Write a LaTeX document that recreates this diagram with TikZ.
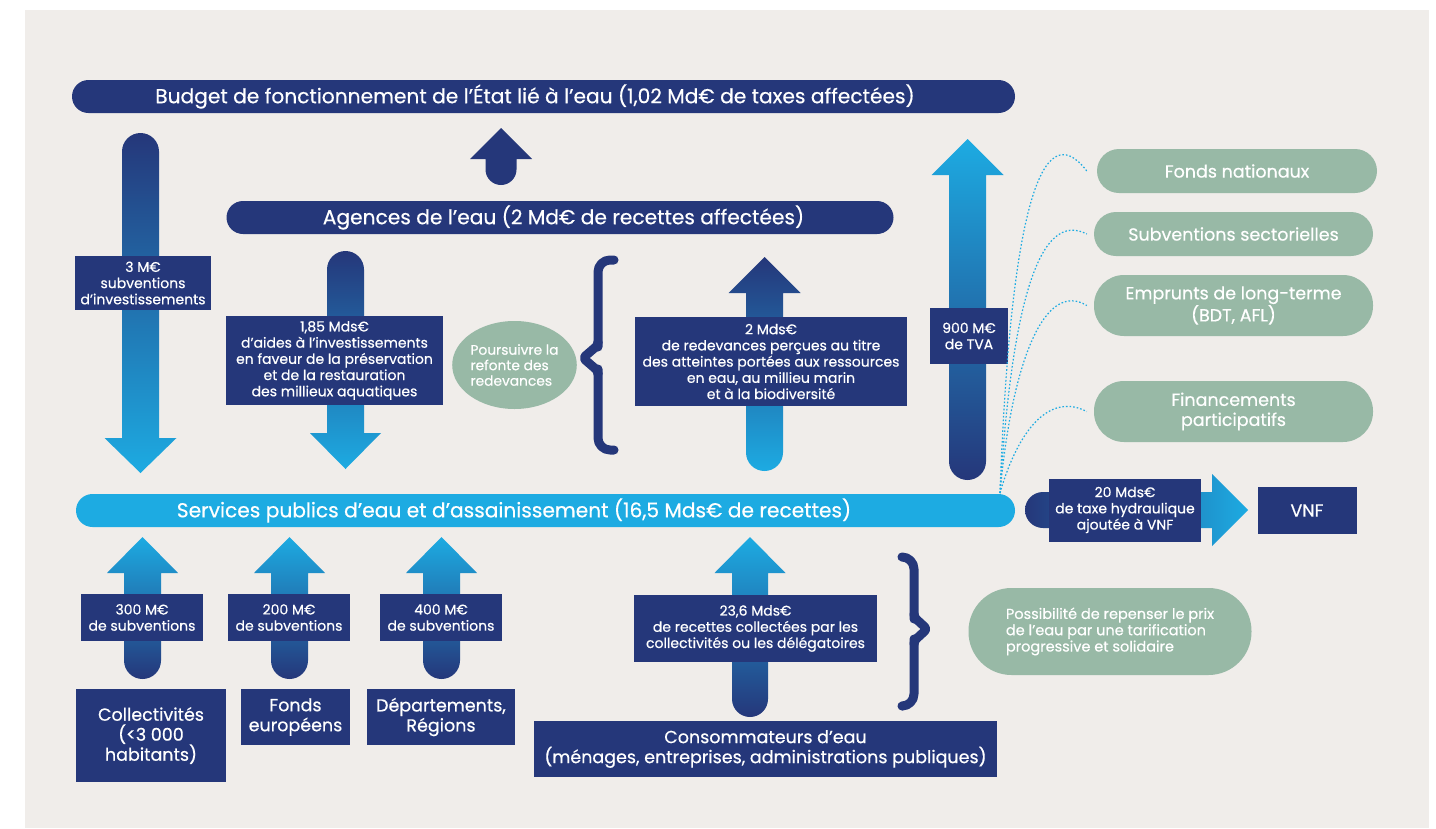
\documentclass[tikz,border=0pt]{standalone}
\usepackage{fontspec}
\setmainfont{Poppins}[FakeBold=0.5]
\usetikzlibrary{shapes.geometric}
\definecolor{navy}{HTML}{25377A}
\definecolor{lblue}{HTML}{1DABE2}
\definecolor{sage}{HTML}{98B9A6}
\definecolor{bgc}{HTML}{F0EDEA}

% cx, half shaft width, y of rounded end, y of head base, head half width, y of tip, direction (+1 round end above), top colour, bottom colour
\newcommand{\flowarrow}[9]{%
 \shade[top color=#8, bottom color=#9]
 ({#1-#2},{#4}) -- ({#1-#2},{#3+(#7)*#2})
 .. controls ({#1-#2},{#3+(#7)*0.448*#2}) and ({#1-0.552*#2},{#3}) .. ({#1},{#3})
 .. controls ({#1+0.552*#2},{#3}) and ({#1+#2},{#3+(#7)*0.448*#2}) .. ({#1+#2},{#3+(#7)*#2})
 -- ({#1+#2},{#4}) -- ({#1+#5},{#4}) -- ({#1},{#6}) -- ({#1-#5},{#4}) -- cycle;}

\tikzset{
 bar/.style={fill=navy, rounded corners=16.5pt, minimum height=33pt, inner sep=0pt},
 bartext/.style={text=white, inner sep=0pt, font=\fontsize{20.2}{22}\selectfont},
 lbl/.style={fill=navy, text=white, inner sep=0pt, align=center, font=\fontsize{14}{16.2}\selectfont},
 box/.style={fill=navy, text=white, inner sep=0pt, align=center, font=\fontsize{17.5}{20}\selectfont},
 pill/.style={fill=sage, text=white, rounded corners=22pt, inner sep=0pt, align=center, font=\fontsize{17.5}{20}\selectfont},
 dots/.style={lblue, line width=1.2pt, dash pattern=on 1.6pt off 2pt},
 brace/.style={navy, line width=9pt, line cap=round, line join=round},
}

\begin{document}
\begin{tikzpicture}[x=1pt,y=-1pt]
\useasboundingbox (0,0) rectangle (1436,828);
\fill[white] (0,0) rectangle (1436,828);
\fill[bgc] (25,10) rectangle (1429,828);

% ---- bars
\node[bar, minimum width=943pt] (budget) at (543.5,96.5) {};
\node[bartext] (budgetT) at (535,96.5) {Budget de fonctionnement de l’État lié à l’eau (1,02 Md€ de taxes affectées)};
\node[bar, minimum width=667pt] (agences) at (560,217.5) {};
\node[bartext] (agencesT) at (563.5,217.5) {Agences de l’eau (2 Md€ de recettes affectées)};
\node[bar, fill=lblue, minimum width=939pt] (services) at (545.5,510.5) {};
\node[bartext] (servicesT) at (514,510.5) {Services publics d’eau et d’assainissement (16,5 Mds€ de recettes)};

% ---- arrows
\flowarrow{501}{15.5}{185}{159}{31}{128}{-1}{navy}{navy}
\flowarrow{140.5}{18.5}{133}{438}{36}{473}{1}{navy}{lblue}
\flowarrow{345.5}{18.5}{251}{433}{35.5}{469}{1}{navy}{lblue}
\flowarrow{764.5}{18.5}{471}{293}{36}{257}{-1}{navy}{lblue}
\flowarrow{967.5}{18.5}{480}{175}{36}{139}{-1}{lblue}{navy}
\flowarrow{142.5}{18.5}{679}{573}{35.5}{537}{-1}{lblue}{navy}
\flowarrow{289.5}{18.5}{679}{573}{35.5}{537}{-1}{lblue}{navy}
\flowarrow{441.5}{18.5}{679}{573}{35.5}{537}{-1}{lblue}{navy}
\flowarrow{750}{18}{717}{573}{35.5}{537}{-1}{lblue}{navy}
\shade[left color=navy, right color=lblue] (1212,492) -- (1043,492)
 .. controls (1033.06,492) and (1025,500.06) .. (1025,510)
 .. controls (1025,519.94) and (1033.06,528) .. (1043,528)
 -- (1212,528) -- (1212,546) -- (1248,510) -- (1212,474) -- cycle;

% ---- labels on arrows
\node[lbl, minimum width=136pt, minimum height=54pt] (l3M) at (143,283) {3 M€\\subventions\\d’investissements};
\node[lbl, minimum width=217pt, minimum height=89pt] (l185) at (334.5,360.5) {1,85 Mds€\\d’aides à l’investissements\\en faveur de la préservation\\et de la restauration\\des millieux aquatiques};
\node[lbl, minimum width=272pt, minimum height=89pt] (l2M) at (771,361.5) {2 Mds€\\de redevances perçues au titre\\des atteintes portées aux ressources\\en eau, au millieu marin\\et à la biodiversité};
\node[lbl, minimum width=78pt, minimum height=56pt] (l900) at (969,336) {900 M€\\de TVA};
\node[lbl, minimum width=152pt, minimum height=63pt] (l20) at (1125,510) {20 Mds€\\de taxe hydraulique\\ajoutée à VNF};
\node[lbl, minimum width=122pt, minimum height=47pt] (l300) at (142,617.5) {300 M€\\de subventions};
\node[lbl, minimum width=122pt, minimum height=47pt] (l200) at (289,617.5) {200 M€\\de subventions};
\node[lbl, minimum width=122pt, minimum height=47pt] (l400) at (441,617.5) {400 M€\\de subventions};
\node[lbl, minimum width=243pt, minimum height=67pt] (l236) at (755.5,628.5) {23,6 Mds€\\de recettes collectées par les\\collectivités ou les délégatoires};

% ---- boxes
\node[box, minimum width=99pt, minimum height=47pt] (vnf) at (1307,510.5) {VNF};
\node[box, minimum width=150pt, minimum height=93pt] (collect) at (151,735.5) {Collectivités\\(<3 000\\habitants)};
\node[box, minimum width=109pt, minimum height=56pt] (feder) at (295.5,717) {Fonds\\européens};
\node[box, minimum width=148pt, minimum height=56pt] (dep) at (441,717) {Départements,\\Régions};
\node[box, minimum width=463pt, minimum height=56pt] (conso) at (765.5,749) {Consommateurs d’eau\\(ménages, entreprises, administrations publiques)};

% ---- green shapes
\node[ellipse, fill=sage, text=white, minimum width=115pt, minimum height=88pt, inner sep=0pt, align=left, font=\fontsize{13.8}{15.5}\selectfont] (refonte) at (514.5,365) {Poursuivre la\\refonte des\\redevances};
\node[pill, minimum width=280pt, minimum height=44pt] (fonds) at (1237,171) {Fonds nationaux};
\node[pill, minimum width=279pt, minimum height=44pt] (subv) at (1233.5,234) {Subventions sectorielles};
\node[pill, rounded corners=30pt, minimum width=279pt, minimum height=61pt] (emprunts) at (1233.5,305.5) {Emprunts de long-terme\\(BDT, AFL)};
\node[pill, rounded corners=30pt, minimum width=279pt, minimum height=61pt] (finpart) at (1233.5,411.5) {Financements\\participatifs};
\node[pill, rounded corners=43pt, minimum width=283pt, minimum height=87pt, align=left, font=\fontsize{14.5}{16.3}\selectfont] (prix) at (1110,631.5) {Possibilité de repenser le prix\\de l’eau par une tarification\\progressive et solidaire};

% ---- dotted links
\coordinate (src) at (1000,493);
\draw[dots] (src) .. controls (1010,220) and (1040,110) .. ([xshift=-10pt]fonds.west);
\draw[dots] (src) .. controls (1012,300) and (1040,210) .. ([xshift=-7pt]subv.west);
\draw[dots] (src) .. controls (1012,360) and (1045,280) .. ([xshift=-7pt]emprunts.west);
\draw[dots] (src) .. controls (1015,440) and (1045,390) .. ([xshift=-7pt]finpart.west);

% ---- braces
\draw[brace, rounded corners=12pt] (614,260) -- (598,260) -- (598,347);
\draw[brace, rounded corners=3pt] (598,343) -- (598,345) -- (583,358) -- (598,371) -- (598,373);
\draw[brace, rounded corners=12pt] (598,369) -- (598,450) -- (614,450);
\draw[brace, rounded corners=12pt] (903,557) -- (914,557) -- (914,619);
\draw[brace, rounded corners=3pt] (914,615) -- (914,617) -- (927,629) -- (914,641) -- (914,643);
\draw[brace, rounded corners=12pt] (914,639) -- (914,706) -- (903,706);
\end{tikzpicture}
\end{document}
